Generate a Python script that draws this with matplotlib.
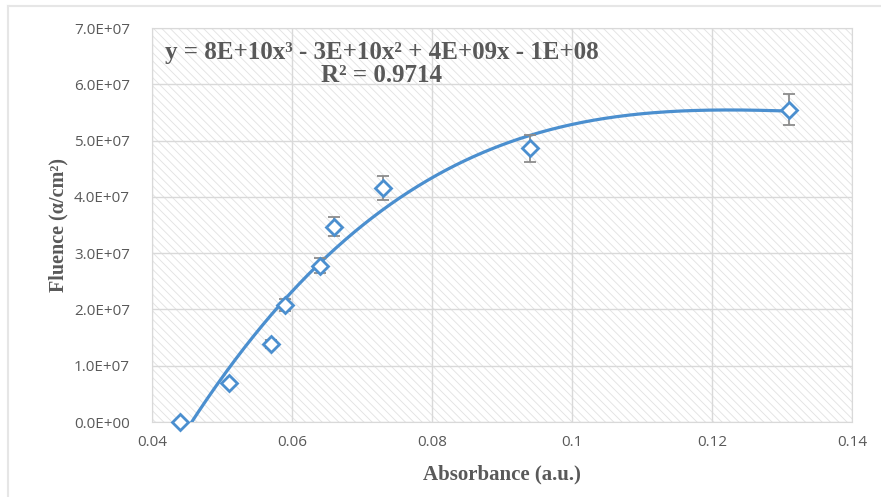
import numpy as np
import matplotlib
matplotlib.use("Agg")
import matplotlib.pyplot as plt
from matplotlib.lines import Line2D

absorbance = [0.044, 0.051, 0.057, 0.059, 0.064, 0.066, 0.073, 0.094, 0.131]
fluence = [0.0, 7.0e6, 1.39e7, 2.08e7, 2.78e7, 3.47e7, 4.16e7, 4.86e7, 5.55e7]
fluence_err = [0.0, 3.5e5, 6.9e5, 1.04e6, 1.39e6, 1.74e6, 2.08e6, 2.43e6, 2.78e6]

x_ticks = [0.04, 0.06, 0.08, 0.1, 0.12, 0.14]
x_tick_labels = ['0.04', '0.06', '0.08', '0.1', '0.12', '0.14']
y_ticks = [0, 1e7, 2e7, 3e7, 4e7, 5e7, 6e7, 7e7]
y_tick_labels = ['0.0E+00', '1.0E+07', '2.0E+07', '3.0E+07',
                 '4.0E+07', '5.0E+07', '6.0E+07', '7.0E+07']

equation = 'y = 8E+10x³ - 3E+10x² + 4E+09x - 1E+08'
r_squared = 'R² = 0.9714'

blue = '#4b8fcf'
text_gray = '#595959'
grid_gray = '#d9d9d9'

plt.rcParams['hatch.color'] = '#e1e1e1'
plt.rcParams['hatch.linewidth'] = 0.6

fig = plt.figure(figsize=(8.81, 4.97), dpi=100)
ax = fig.add_axes([152 / 881, 75 / 497, 700 / 881, 394 / 497])

# hatched plot area like the Excel pattern fill
ax.patch.set_facecolor('white')
ax.patch.set_hatch('\\\\\\\\')
ax.patch.set_edgecolor('#e1e1e1')

# cubic trendline (same as Excel polynomial order 3)
coef = np.polyfit(absorbance, fluence, 3)
xs = np.linspace(min(absorbance), max(absorbance), 400)
ax.plot(xs, np.polyval(coef, xs), color=blue, lw=2.3, zorder=3)

ax.errorbar(absorbance, fluence, yerr=fluence_err, fmt='none',
            ecolor='#8c8c8c', elinewidth=1.3, capsize=4, capthick=1.3, zorder=4)
ax.plot(absorbance, fluence, ls='none', marker='D', ms=8, mfc='white',
        mec=blue, mew=2, zorder=5, clip_on=False)

ax.set_xlim(0.04, 0.14)
ax.set_ylim(0, 7e7)
ax.set_xticks(x_ticks)
ax.set_xticklabels(x_tick_labels)
ax.set_yticks(y_ticks)
ax.set_yticklabels(y_tick_labels)
ax.grid(True, color=grid_gray, lw=1)
ax.set_axisbelow(True)
ax.tick_params(length=0, labelsize=11, labelcolor=text_gray)
ax.tick_params(axis='y', pad=16)
ax.tick_params(axis='x', pad=9)
for lab in ax.get_xticklabels() + ax.get_yticklabels():
    lab.set_family('Open Sans')
for sp in ax.spines.values():
    sp.set_color(grid_gray)

ax.set_xlabel('Absorbance (a.u.)', family='Liberation Serif', fontweight='bold',
              fontsize=15, color=text_gray, labelpad=11)
ax.set_ylabel('Fluence (α/cm²)', family='Liberation Serif', fontweight='bold',
              fontsize=14.5, color=text_gray, labelpad=4)

ax.text((382 - 152) / 700, (497 - 52 - 75) / 394, equation, transform=ax.transAxes,
        ha='center', va='center', family='Liberation Serif', fontweight='bold',
        fontsize=18, color=text_gray)
ax.text((382 - 152) / 700, (497 - 76 - 75) / 394, r_squared, transform=ax.transAxes,
        ha='center', va='center', family='Liberation Serif', fontweight='bold',
        fontsize=18, color=text_gray)

# chart frame (partly cropped in the original)
fig.add_artist(Line2D([8 / 881, 1.0], [1 - 6 / 497, 1 - 6 / 497], color='#e6e6e6', lw=1.5))
fig.add_artist(Line2D([8 / 881, 8 / 881], [1 - 6 / 497, 0.0], color='#e6e6e6', lw=1.5))

fig.savefig('out.png', dpi=100)
